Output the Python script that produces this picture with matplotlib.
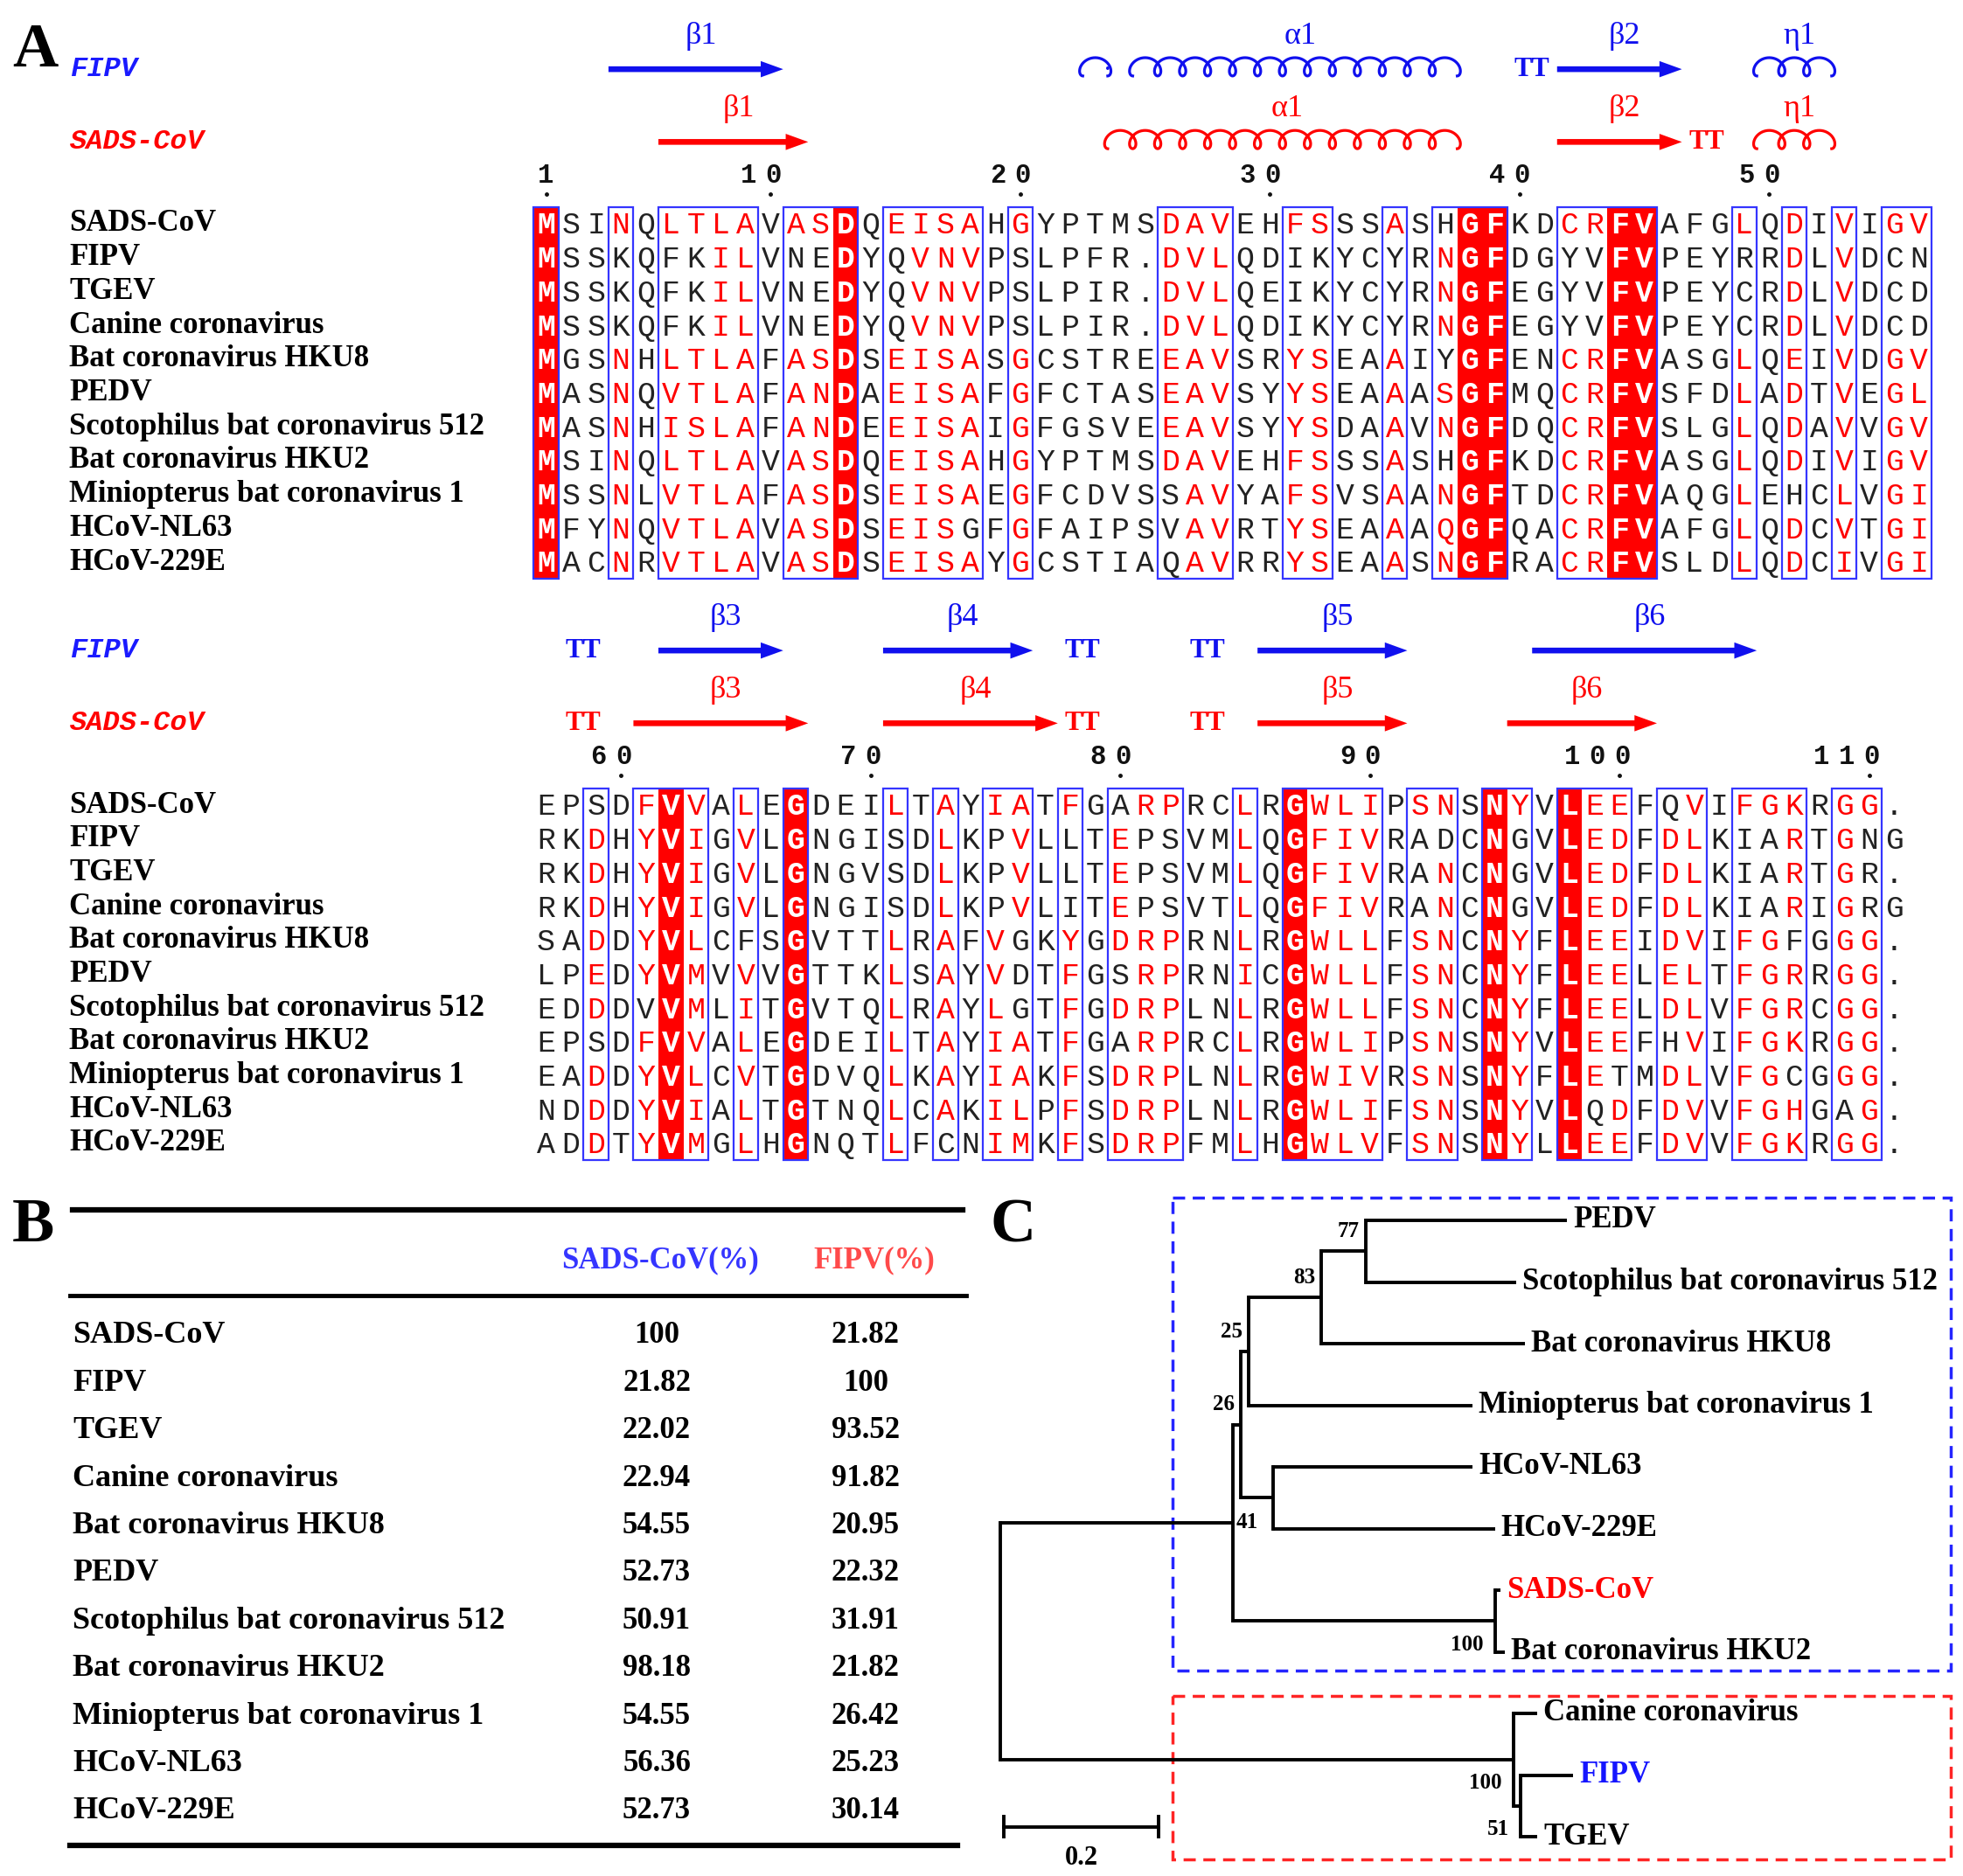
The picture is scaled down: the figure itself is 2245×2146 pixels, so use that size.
import numpy as np
import matplotlib
matplotlib.use("Agg")
import matplotlib.pyplot as plt
from matplotlib.patches import Rectangle

SERIF = "Liberation Serif"
MONO = "Liberation Mono"
RED = "#ff0000"
BLUE = "#1a1aff"

W, H = 2245, 2146

# ---------------- panel A data ----------------
# uppercase = red letter, lowercase = black letter (fill columns are drawn white)
names = ["SADS-CoV", "FIPV", "TGEV", "Canine coronavirus", "Bat coronavirus HKU8",
         "PEDV", "Scotophilus bat coronavirus 512", "Bat coronavirus HKU2",
         "Miniopterus bat coronavirus 1", "HCoV-NL63", "HCoV-229E"]

block1 = [
    "MsiNqLTLAvASDqEISAhGyptmsDAVehFSssAshGFkdCRFVafgLqDiViGV",
    "MsskqfkILvneDyqVNVpslpfr.DVLqdikycyrNGFdgyvFVpeyrrDlVdcn",
    "MsskqfkILvneDyqVNVpslpir.DVLqeikycyrNGFegyvFVpeycrDlVdcd",
    "MsskqfkILvneDyqVNVpslpir.DVLqdikycyrNGFegyvFVpeycrDlVdcd",
    "MgsNhLTLAfASDsEISAsGcstreEAVsrYSeaAiyGFenCRFVasgLqEiVdGV",
    "MasNqVTLAfANDaEISAfGfctasEAVsyYSeaAaSGFmqCRFVsfdLaDtVeGL",
    "MasNhISLAfANDeEISAiGfgsveEAVsyYSdaAvNGFdqCRFVslgLqDaVvGV",
    "MsiNqLTLAvASDqEISAhGyptmsDAVehFSssAshGFkdCRFVasgLqDiViGV",
    "MssNlVTLAfASDsEISAeGfcdvssAVyaFSvsAaNGFtdCRFVaqgLehcLvGI",
    "MfyNqVTLAvASDsEISgfGfaipsvAVrtYSeaAaQGFqaCRFVafgLqDcVtGI",
    "MacNrVTLAvASDsEISAyGcstiaqAVrrYSeaAsNGFraCRFVsldLqDcIvGI",
]
block2 = [
    "epsdFvVaLeGdeiLtAyIAtFgaRPrcLrGWLIpSNsNYvLEEfqViFGKrGG.",
    "rkDhYVIgVlGngisdLkpVlltEpsvmLqGFIVradcNgvLEDfDLkiaRtGng",
    "rkDhYVIgVlGngvsdLkpVlltEpsvmLqGFIVraNcNgvLEDfDLkiaRtGr.",
    "rkDhYVIgVlGngisdLkpVlitEpsvtLqGFIVraNcNgvLEDfDLkiaRiGrg",
    "saDdYVLcfsGvttLrAfVgkYgDRPrnLrGWLLfSNcNYfLEEiDViFGfgGG.",
    "lpEdYVMvVvGttkLsAyVdtFgsRPrnIcGWLLfSNcNYfLEElELtFGRrGG.",
    "edDdvVMlItGvtqLrAyLgtFgDRPlnLrGWLLfSNcNYfLEElDLvFGRcGG.",
    "epsdFvVaLeGdeiLtAyIAtFgaRPrcLrGWLIpSNsNYvLEEfhViFGKrGG.",
    "eaDdYVLcVtGdvqLkAyIAkFsDRPlnLrGWIVrSNsNYfLEtmDLvFGcgGG.",
    "ndDdYVIaLtGtnqLcAkILpFsDRPlnLrGWLIfSNsNYvLqDfDVvFGHgaG.",
    "adDtYVMgLhGnqtLfcnIMkFsDRPfmLhGWLVfSNsNYlLEEfDVvFGKrGG.",
]
fills1 = [1, 13, 38, 39, 44, 45]
fills2 = [6, 11, 31, 39, 42]
boxes1 = [(1, 1), (4, 4), (6, 9), (11, 13), (15, 18), (20, 20), (26, 28), (31, 32),
          (35, 35), (37, 39), (42, 45), (49, 49), (51, 51), (53, 53), (55, 56)]
boxes2 = [(3, 3), (5, 7), (9, 9), (11, 11), (15, 15), (17, 17), (19, 20), (22, 22),
          (24, 26), (29, 29), (31, 34), (36, 37), (39, 40), (42, 44), (46, 47),
          (49, 51), (53, 54)]
ticks1 = [1, 10, 20, 30, 40, 50]
ticks2 = [60, 70, 80, 90, 100, 110]

# secondary structure: (label, kind, first column, last column)
fipv_ss1 = [("β1", "arrow", 4, 10), ("", "loop", 23, 23), ("", "dot", 24, 24),
            ("α1", "helix", 25, 37), ("", "tt", 40, 41), ("β2", "arrow", 42, 46),
            ("η1", "helix", 50, 52)]
sads_ss1 = [("β1", "arrow", 6, 11), ("α1", "helix", 24, 37), ("β2", "arrow", 42, 46),
            ("", "tt", 47, 48), ("η1", "helix", 50, 52)]
fipv_ss2 = [("", "tt", 2, 3), ("β3", "arrow", 6, 10), ("β4", "arrow", 15, 20),
            ("", "tt", 22, 23), ("", "tt", 27, 28), ("β5", "arrow", 30, 35),
            ("β6", "arrow", 41, 49)]
sads_ss2 = [("", "tt", 2, 3), ("β3", "arrow", 5, 11), ("β4", "arrow", 15, 21),
            ("", "tt", 22, 23), ("", "tt", 27, 28), ("β5", "arrow", 30, 35),
            ("β6", "arrow", 40, 45)]

# ---------------- panel B data ----------------
tab_names = names
sads_pct = ["100", "21.82", "22.02", "22.94", "54.55", "52.73", "50.91", "98.18",
            "54.55", "56.36", "52.73"]
fipv_pct = ["21.82", "100", "93.52", "91.82", "20.95", "22.32", "31.91", "21.82",
            "26.42", "25.23", "30.14"]

# ---------------- panel C data ----------------
leaf_order = ["PEDV", "Scotophilus bat coronavirus 512", "Bat coronavirus HKU8",
              "Miniopterus bat coronavirus 1", "HCoV-NL63", "HCoV-229E", "SADS-CoV",
              "Bat coronavirus HKU2", "Canine coronavirus", "FIPV", "TGEV"]
parent = {"PEDV": "n77", "Scotophilus bat coronavirus 512": "n77", "n77": "n83",
          "Bat coronavirus HKU8": "n83", "n83": "n25",
          "Miniopterus bat coronavirus 1": "n25", "n25": "n26",
          "HCoV-NL63": "nNL", "HCoV-229E": "nNL", "nNL": "n26", "n26": "n41",
          "SADS-CoV": "nS", "Bat coronavirus HKU2": "nS", "nS": "n41", "n41": "root",
          "Canine coronavirus": "nB", "FIPV": "n51", "TGEV": "n51", "n51": "nB",
          "nB": "root"}
depth = {"root": 0.0, "n41": 0.301, "n26": 0.311, "n25": 0.321, "n83": 0.415,
         "n77": 0.472, "PEDV": 0.732, "Scotophilus bat coronavirus 512": 0.667,
         "Bat coronavirus HKU8": 0.678, "Miniopterus bat coronavirus 1": 0.610,
         "nNL": 0.353, "HCoV-NL63": 0.610, "HCoV-229E": 0.639, "nS": 0.639,
         "SADS-CoV": 0.646, "Bat coronavirus HKU2": 0.652, "nB": 0.663,
         "Canine coronavirus": 0.694, "n51": 0.672, "FIPV": 0.740, "TGEV": 0.694}
bootstrap = {"n77": "77", "n83": "83", "n25": "25", "n26": "26", "n41": "41",
             "nS": "100", "nB": "100", "n51": "51"}

fig = plt.figure(figsize=(W / 100, H / 100), dpi=100)

# column/row geometry of the alignment
COL0_PX, DX = 624.5, 28.55
DY = 38.7


def helix(ax, a, b, y, color):
    # cursive loops (like a row of "ℓ"), loop on top
    n = b - a + 1
    s = np.linspace(0, n, 160 * n)
    x = a - 0.5 + s - 0.34 * np.sin(2 * np.pi * s)
    yy = y + 0.2 - 0.27 * (1 - np.cos(2 * np.pi * s))
    ax.plot(x, yy, color=color, lw=2.3)


def draw_ss(ax, items, y, color):
    for label, kind, a, b in items:
        if kind == "arrow":
            ax.arrow(a - 0.5, y, b - a + 1, 0, width=0.17, head_width=0.48,
                     head_length=0.9, length_includes_head=True, color=color, lw=0)
        elif kind in ("helix", "loop"):
            helix(ax, a, b, y, color)
        elif kind == "dot":
            ax.text(a - 0.5, y + 0.2, ".", color=color, fontsize=22, family=SERIF,
                    ha="center", va="bottom")
        elif kind == "tt":
            ax.text((a + b) / 2, y, "TT", color=color, fontsize=22, family=SERIF,
                    weight="bold", ha="center", va="center")
        if label:
            ax.text((a + b) / 2 + 0.2, y - 0.98, label, color=color, fontsize=26,
                    family=SERIF, ha="center", va="center")


def draw_block(row0_px, seqs, offset, fills, boxes, ticks, ss_f, ss_s):
    top = row0_px - 6.0 * DY
    bot = row0_px + 10.7 * DY
    ax = fig.add_axes([0, 1 - bot / H, 1, (bot - top) / H])
    ax.set_xlim(1 - COL0_PX / DX, 1 + (W - COL0_PX) / DX)
    ax.set_ylim(10.7, -6.0)
    ax.axis("off")
    nrow = len(seqs)
    for c in fills:
        ax.add_patch(Rectangle((c - 0.5, -0.5), 1, nrow, facecolor=RED, lw=0))
    for a, b in boxes:
        ax.add_patch(Rectangle((a - 0.5, -0.5), b - a + 1, nrow, fill=False,
                               edgecolor="#3535ff", lw=1.6))
    for r, seq in enumerate(seqs):
        ax.text(1 - (COL0_PX - 79) / DX, r, names[r], fontsize=25, family=SERIF,
                weight="bold", ha="left", va="center")
        for c, ch in enumerate(seq, start=1):
            if c in fills:
                col, wt = "white", "bold"
            elif ch.isupper():
                col, wt = RED, "normal"
            else:
                col, wt = "#222222", "normal"
            ax.text(c, r + 0.05, ch.upper(), fontsize=25, family=MONO, color=col,
                    weight=wt, ha="center", va="center")
    for t in ticks:
        c = t - offset
        lab = str(t)
        for k, d in enumerate(lab):
            ax.text(c - (len(lab) - 1 - k) * 1.0 + 0.1 * (len(lab) > 1), -1.42, d,
                    fontsize=22, family=MONO, weight="bold", ha="center",
                    va="center", color="#111111")
        ax.plot([c], [-0.88], marker="o", ms=2.5, color="#111111")
    lx = 1 - (COL0_PX - 80) / DX
    ax.text(lx, -4.57, "FIPV", fontsize=23, family=MONO, weight="bold",
            style="italic", color=BLUE, ha="left", va="center")
    ax.text(lx, -2.42, "SADS-CoV", fontsize=23, family=MONO, weight="bold",
            style="italic", color=RED, ha="left", va="center")
    draw_ss(ax, ss_f, -4.57, "#1010ee")
    draw_ss(ax, ss_s, -2.42, RED)
    return ax


draw_block(256, block1, 0, fills1, boxes1, ticks1, fipv_ss1, sads_ss1)
draw_block(921, block2, 56, fills2, boxes2, ticks2, fipv_ss2, sads_ss2)

# ---------------- panel letters + table (pixel axes) ----------------
axp = fig.add_axes([0, 0, 1, 1], zorder=-1)
axp.set_xlim(0, W)
axp.set_ylim(H, 0)
axp.axis("off")
for letter, x, y in [("A", 14, 58), ("B", 14, 1403), ("C", 1133, 1403)]:
    axp.text(x, y, letter, fontsize=52, family=SERIF, weight="bold",
             ha="left", va="center")

axp.plot([83, 1101], [1384, 1384], color="black", lw=4.5)
axp.plot([80, 1105], [1482, 1482], color="black", lw=3.5)
axp.plot([80, 1095], [2111, 2111], color="black", lw=4.5)
axp.text(755, 1442, "SADS-CoV(%)", fontsize=25, family=SERIF, weight="bold",
         color="#3535ff", ha="center", va="center")
axp.text(1000, 1442, "FIPV(%)", fontsize=25, family=SERIF, weight="bold",
         color="#ff4a4a", ha="center", va="center")
for i, nm in enumerate(tab_names):
    y = 1528 + i * 54.4
    axp.text(83, y, nm, fontsize=26, family=SERIF, weight="bold", ha="left",
             va="center")
    axp.text(751, y, sads_pct[i], fontsize=25, family=SERIF, weight="bold",
             ha="center", va="center")
    axp.text(990, y, fipv_pct[i], fontsize=25, family=SERIF, weight="bold",
             ha="center", va="center")

# ---------------- panel C tree ----------------
Y0, STEP, UNIT, X0 = 1396, 70.5, 885, 1144
axt = fig.add_axes([X0 / W, 1 - (Y0 + 10 * STEP) / H, UNIT / W, 10 * STEP / H])
axt.set_xlim(0, 1)
axt.set_ylim(10, 0)
axt.axis("off")

children = {}
for ch, p in parent.items():
    children.setdefault(p, []).append(ch)
ypos = {nm: i for i, nm in enumerate(leaf_order)}


def node_y(n):
    if n not in ypos:
        ys = [node_y(c) for c in children[n]]
        ypos[n] = (min(ys) + max(ys)) / 2
    return ypos[n]


node_y("root")
for n, p in parent.items():
    axt.plot([depth[p], depth[n]], [ypos[n], ypos[n]], color="black", lw=2.8,
             solid_capstyle="butt", clip_on=False)
for n, ch in children.items():
    ys = [ypos[c] for c in ch]
    axt.plot([depth[n], depth[n]], [min(ys), max(ys)], color="black", lw=2.8,
             clip_on=False)

leaf_colors = {"SADS-CoV": RED, "FIPV": "#1515ff"}
for nm in leaf_order:
    axt.text(depth[nm] + 0.008, ypos[nm], nm, fontsize=25, family=SERIF,
             weight="bold", color=leaf_colors.get(nm, "black"), ha="left",
             va="center", clip_on=False)

for n, val in bootstrap.items():
    if n == "n41":
        axt.text(depth[n] + 0.004, ypos[n], val, fontsize=18, family=SERIF,
                 weight="bold", ha="left", va="center")
    elif n in ("nS", "nB", "n51"):
        axt.text(depth[n] - 0.015, ypos[n] + 0.38, val, fontsize=18, family=SERIF,
                 weight="bold", ha="right", va="center")
    else:
        axt.text(depth[n] - 0.008, ypos[n] - 0.32, val, fontsize=18, family=SERIF,
                 weight="bold", ha="right", va="center")

axt.plot([0.005, 0.205], [9.84, 9.84], color="black", lw=2.8, clip_on=False)
for xb in (0.005, 0.205):
    axt.plot([xb, xb], [9.68, 10.0], color="black", lw=2.8, clip_on=False)
axt.text(0.105, 10.35, "0.2", fontsize=22, family=SERIF, weight="bold",
         ha="center", va="center", clip_on=False)

axt.add_patch(Rectangle((0.223, -0.37), 1.005, 7.68, fill=False, edgecolor="#2525ff",
                        lw=2.5, linestyle=(0, (4, 2.5)), clip_on=False))
axt.add_patch(Rectangle((0.223, 7.71), 1.005, 2.66, fill=False, edgecolor="#ff2525",
                        lw=2.5, linestyle=(0, (4, 2.5)), clip_on=False))

fig.savefig("out.png", dpi=100)
